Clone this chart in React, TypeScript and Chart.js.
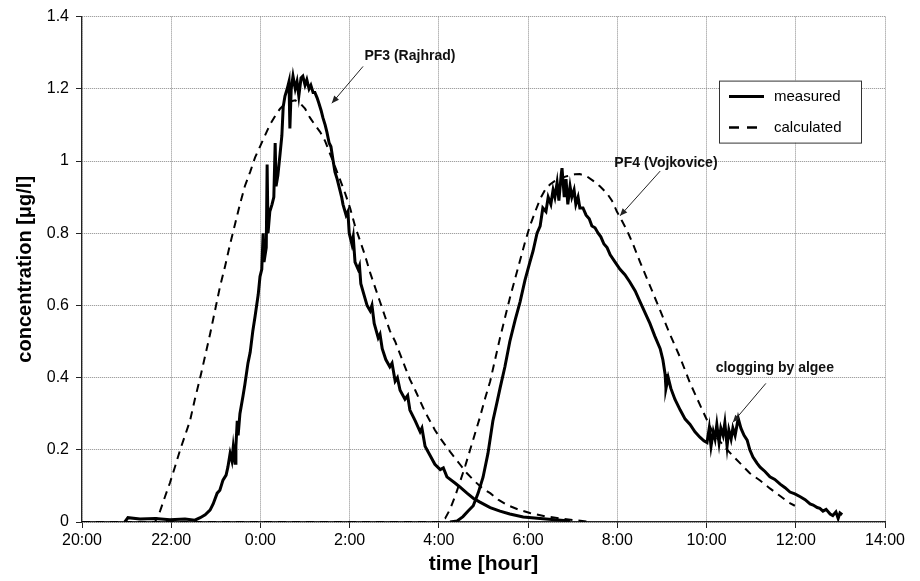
import React, { useEffect, useRef } from "react";
import { Chart, registerables } from "chart.js";

Chart.register(...registerables);

// ---------- data (x = hours elapsed since 20:00) ----------
const xTickLabels = ["20:00", "22:00", "0:00", "2:00", "4:00", "6:00", "8:00", "10:00", "12:00", "14:00"];
const yTickLabels = ["0", "0.2", "0.4", "0.6", "0.8", "1", "1.2", "1.4"];

const measuredPF3Hours = [
  0.96, 1.03, 1.3, 1.64, 1.97, 2.31, 2.53, 2.65, 2.76, 2.87, 2.94, 3.03, 3.09, 3.16, 3.23, 3.27, 3.32, 3.36, 3.39, 3.43,
  3.45, 3.48, 3.5, 3.54, 3.61, 3.65, 3.72, 3.77, 3.83, 3.88, 3.95, 3.99, 4.03, 4.06, 4.08, 4.13, 4.15, 4.17, 4.21, 4.26,
  4.3, 4.33, 4.35, 4.39, 4.44, 4.48, 4.51, 4.55, 4.6, 4.64, 4.66, 4.69, 4.73, 4.78, 4.82, 4.86, 4.91, 4.95, 5.0, 5.04,
  5.09, 5.13, 5.18, 5.22, 5.27, 5.31, 5.36, 5.4, 5.45, 5.49, 5.54, 5.58, 5.63, 5.67, 5.72, 5.78, 5.82, 5.85, 5.92, 5.96,
  5.99, 6.05, 6.08, 6.12, 6.19, 6.22, 6.25, 6.32, 6.39, 6.46, 6.5, 6.55, 6.64, 6.68, 6.73, 6.81, 6.9, 6.95, 7.02, 7.07,
  7.13, 7.24, 7.3, 7.35, 7.47, 7.58, 7.62, 7.69, 7.8, 7.91, 8.03, 8.1, 8.18, 8.36, 8.47, 8.63, 8.77, 8.92, 9.15, 9.37,
  9.59, 9.89, 10.27, 10.6, 10.94,
];
const measuredPF3Values = [
  0.0, 0.012, 0.008, 0.01, 0.006, 0.008, 0.005, 0.012, 0.02, 0.033, 0.05, 0.08, 0.088, 0.116, 0.13, 0.152, 0.19, 0.17, 0.207, 0.163,
  0.21, 0.28, 0.24, 0.3, 0.35, 0.38, 0.44, 0.47, 0.53, 0.57, 0.63, 0.68, 0.7, 0.8, 0.72, 0.76, 0.99, 0.8, 0.86, 0.88,
  0.9, 1.05, 0.93, 0.96, 1.02, 1.07, 1.15, 1.18, 1.2, 1.22, 1.09, 1.2, 1.235, 1.2, 1.22, 1.18, 1.23, 1.235, 1.21, 1.225,
  1.2, 1.21, 1.19, 1.19, 1.175, 1.16, 1.14, 1.12, 1.1, 1.08, 1.05, 1.04, 1.0, 0.97, 0.95, 0.92, 0.9, 0.88, 0.85, 0.86,
  0.8, 0.77, 0.79, 0.72, 0.7, 0.71, 0.66, 0.63, 0.6, 0.585, 0.6, 0.55, 0.51, 0.52, 0.48, 0.45, 0.43, 0.44, 0.39, 0.4,
  0.365, 0.34, 0.35, 0.31, 0.28, 0.25, 0.26, 0.21, 0.185, 0.16, 0.145, 0.15, 0.125, 0.108, 0.097, 0.08, 0.066, 0.055, 0.04, 0.03,
  0.022, 0.014, 0.01, 0.006, 0.003,
];

const measuredPF4Hours = [
  8.25, 8.41, 8.54, 8.65, 8.77, 8.88, 8.99, 9.1, 9.21, 9.3, 9.37, 9.48, 9.59, 9.71, 9.82, 9.93, 10.04, 10.11, 10.2, 10.27,
  10.33, 10.4, 10.45, 10.51, 10.56, 10.6, 10.65, 10.69, 10.74, 10.76, 10.81, 10.85, 10.89, 10.94, 10.98, 11.03, 11.07, 11.12, 11.16, 11.23,
  11.3, 11.37, 11.43, 11.5, 11.57, 11.63, 11.7, 11.77, 11.84, 11.95, 12.06, 12.17, 12.28, 12.4, 12.51, 12.62, 12.73, 12.84, 12.96, 13.02,
  13.07, 13.09, 13.14, 13.2, 13.29, 13.41, 13.52, 13.63, 13.74, 13.85, 13.94, 14.01, 14.06, 14.1, 14.15, 14.19, 14.23, 14.28, 14.32, 14.37,
  14.41, 14.46, 14.5, 14.55, 14.59, 14.64, 14.71, 14.77, 14.84, 14.91, 14.97, 15.04, 15.13, 15.2, 15.31, 15.42, 15.53, 15.65, 15.76, 15.87,
  15.98, 16.1, 16.21, 16.32, 16.39, 16.48, 16.54, 16.61, 16.68, 16.77, 16.83, 16.9, 16.95, 16.99, 17.04,
];
const measuredPF4Values = [
  0.0, 0.003, 0.015, 0.03, 0.045, 0.08, 0.124, 0.19, 0.28, 0.33, 0.37, 0.43, 0.5, 0.56, 0.61, 0.67, 0.72, 0.75, 0.8, 0.82,
  0.87, 0.86, 0.9, 0.88, 0.92, 0.9, 0.94, 0.89, 0.96, 0.98, 0.9, 0.95, 0.88, 0.93, 0.9, 0.92, 0.88, 0.9, 0.87, 0.87,
  0.85, 0.84, 0.82, 0.815, 0.8, 0.79, 0.77, 0.76, 0.74, 0.72, 0.7, 0.685, 0.665, 0.64, 0.61, 0.58, 0.55, 0.515, 0.48, 0.45,
  0.41, 0.37, 0.4, 0.37, 0.34, 0.31, 0.285, 0.27, 0.25, 0.235, 0.225, 0.22, 0.26, 0.21, 0.25, 0.23, 0.27, 0.22, 0.26, 0.24,
  0.275, 0.21, 0.255, 0.23, 0.26, 0.24, 0.287, 0.26, 0.24, 0.227, 0.2, 0.18, 0.163, 0.152, 0.14, 0.125, 0.118, 0.105, 0.095, 0.083,
  0.078, 0.07, 0.062, 0.05, 0.047, 0.04, 0.038, 0.03, 0.035, 0.022, 0.018, 0.028, 0.01, 0.025, 0.02,
];

const calculatedPF3Hours = [
  0, 1.64, 1.7, 1.75, 1.86, 1.97, 2.09, 2.2, 2.31, 2.42, 2.53, 2.65, 2.76, 2.87, 2.98, 3.09, 3.21, 3.32, 3.43, 3.54,
  3.65, 3.77, 3.88, 3.99, 4.1, 4.21, 4.33, 4.44, 4.55, 4.66, 4.78, 4.89, 5.0, 5.11, 5.22, 5.34, 5.45, 5.56, 5.67, 5.78,
  5.9, 6.01, 6.12, 6.23, 6.34, 6.46, 6.57, 6.68, 6.79, 6.9, 7.02, 7.13, 7.24, 7.35, 7.47, 7.58, 7.69, 7.8, 7.91, 8.03,
  8.25, 8.47, 8.63, 8.81, 8.99, 9.15, 9.33, 9.53, 9.77, 10.04, 10.38, 10.72, 11.05, 11.39,
];
const calculatedPF3Values = [
  0, 0, 0.02, 0.03, 0.07, 0.108, 0.155, 0.2, 0.24, 0.28, 0.34, 0.4, 0.46, 0.52, 0.585, 0.65, 0.71, 0.77, 0.825, 0.88,
  0.93, 0.97, 1.01, 1.04, 1.07, 1.1, 1.125, 1.145, 1.158, 1.165, 1.168, 1.16, 1.145, 1.12, 1.1, 1.08, 1.055, 1.02, 0.985, 0.95,
  0.91, 0.87, 0.82, 0.78, 0.74, 0.69, 0.65, 0.61, 0.57, 0.53, 0.5, 0.465, 0.43, 0.395, 0.365, 0.335, 0.305, 0.28, 0.255, 0.232,
  0.195, 0.16, 0.135, 0.112, 0.092, 0.08, 0.062, 0.047, 0.035, 0.025, 0.016, 0.01, 0.005, 0,
];

const calculatedPF4Hours = [
  0, 8.03, 8.14, 8.25, 8.36, 8.47, 8.59, 8.7, 8.81, 8.92, 9.03, 9.15, 9.26, 9.37, 9.48, 9.59, 9.71, 9.82, 9.93, 10.04,
  10.16, 10.27, 10.38, 10.49, 10.6, 10.72, 10.87, 11.05, 11.16, 11.32, 11.46, 11.61, 11.77, 11.88, 11.99, 12.1, 12.22, 12.35, 12.51, 12.73,
  12.96, 13.18, 13.41, 13.63, 13.85, 14.15, 14.46, 14.75, 14.97, 15.2, 15.42, 15.65, 15.83, 15.98,
];
const calculatedPF4Values = [
  0, 0, 0.01, 0.035, 0.07, 0.11, 0.155, 0.2, 0.245, 0.29, 0.34, 0.39, 0.45, 0.51, 0.565, 0.62, 0.675, 0.725, 0.775, 0.82,
  0.86, 0.895, 0.92, 0.935, 0.945, 0.952, 0.958, 0.963, 0.964, 0.957, 0.945, 0.93, 0.91, 0.89, 0.86, 0.835, 0.807, 0.77, 0.72, 0.655,
  0.586, 0.52, 0.455, 0.385, 0.325, 0.245, 0.2, 0.163, 0.135, 0.115, 0.093, 0.072, 0.055, 0.045,
];

// annotation labels anchored in data units (hours, concentration)
const annotationTexts = ["PF3 (Rajhrad)", "PF4 (Vojkovice)", "clogging by algee"];
const annotationTextAt = [[7.35, 1.29], [13.09, 0.994], [15.53, 0.425]];
const annotationArrowFrom = [[6.3, 1.262], [12.96, 0.972], [15.33, 0.384]];
const annotationArrowTo = [[5.6, 1.16], [12.06, 0.848], [14.59, 0.276]];

const legendLabels = ["measured", "calculated"];

const FONT = "'Liberation Sans', Arial, Helvetica, sans-serif";

const toPoints = (xs: number[], ys: number[]) => xs.map((x, i) => ({ x, y: ys[i] }));

function drawArrow(ctx: CanvasRenderingContext2D, x1: number, y1: number, x2: number, y2: number) {
  ctx.save();
  ctx.strokeStyle = "#222";
  ctx.fillStyle = "#222";
  ctx.lineWidth = 1;
  ctx.beginPath();
  ctx.moveTo(x1, y1);
  ctx.lineTo(x2, y2);
  ctx.stroke();
  const ang = Math.atan2(y2 - y1, x2 - x1);
  const len = 8;
  const spread = 0.4;
  ctx.beginPath();
  ctx.moveTo(x2, y2);
  ctx.lineTo(x2 - len * Math.cos(ang - spread), y2 - len * Math.sin(ang - spread));
  ctx.lineTo(x2 - len * Math.cos(ang + spread), y2 - len * Math.sin(ang + spread));
  ctx.closePath();
  ctx.fill();
  ctx.restore();
}

const overlayPlugin = {
  id: "overlay",
  afterDatasetsDraw(chart: any) {
    const { ctx, chartArea, scales } = chart;
    const xs = scales.x;
    const ys = scales.y;

    // annotations
    ctx.save();
    ctx.font = `bold 14px ${FONT}`;
    ctx.fillStyle = "#111";
    ctx.textAlign = "center";
    ctx.textBaseline = "middle";
    annotationTexts.forEach((t, i) => {
      const [tx, ty] = annotationTextAt[i];
      ctx.fillText(t, xs.getPixelForValue(tx), ys.getPixelForValue(ty));
      const [fx, fy] = annotationArrowFrom[i];
      const [ex, ey] = annotationArrowTo[i];
      drawArrow(
        ctx,
        xs.getPixelForValue(fx),
        ys.getPixelForValue(fy),
        xs.getPixelForValue(ex),
        ys.getPixelForValue(ey)
      );
    });
    ctx.restore();

    // legend box
    const w = 142;
    const h = 62;
    const x0 = chartArea.right - 166;
    const y0 = chartArea.top + 64;
    ctx.save();
    ctx.fillStyle = "#fff";
    ctx.fillRect(x0, y0, w, h);
    ctx.strokeStyle = "#333";
    ctx.lineWidth = 1;
    ctx.strokeRect(x0 + 0.5, y0 + 0.5, w, h);
    const rows = [y0 + 16, y0 + 47];
    rows.forEach((ry, i) => {
      ctx.beginPath();
      ctx.strokeStyle = "#000";
      if (i === 0) {
        ctx.lineWidth = 3;
        ctx.setLineDash([]);
      } else {
        ctx.lineWidth = 2.5;
        ctx.setLineDash([10, 8]);
      }
      ctx.moveTo(x0 + 10, ry);
      ctx.lineTo(x0 + 45, ry);
      ctx.stroke();
      ctx.setLineDash([]);
      ctx.fillStyle = "#000";
      ctx.font = `15px ${FONT}`;
      ctx.textAlign = "left";
      ctx.textBaseline = "middle";
      ctx.fillText(legendLabels[i], x0 + 55, ry);
    });
    ctx.restore();
  },
};

export default function App() {
  const canvasRef = useRef<HTMLCanvasElement | null>(null);

  useEffect(() => {
    const canvas = canvasRef.current;
    if (!canvas) return;
    const solid = { borderColor: "#000", borderWidth: 3, pointRadius: 0, tension: 0, fill: false };
    const dashed = { borderColor: "#000", borderWidth: 2, borderDash: [8, 6], pointRadius: 0, tension: 0, fill: false };
    const chart = new Chart(canvas, {
      type: "line",
      data: {
        datasets: [
          { label: "measured PF3", data: toPoints(measuredPF3Hours, measuredPF3Values), ...solid },
          { label: "measured PF4", data: toPoints(measuredPF4Hours, measuredPF4Values), ...solid },
          { label: "calculated PF3", data: toPoints(calculatedPF3Hours, calculatedPF3Values), ...dashed },
          { label: "calculated PF4", data: toPoints(calculatedPF4Hours, calculatedPF4Values), ...dashed },
        ] as any,
      },
      options: {
        responsive: false,
        animation: false,
        devicePixelRatio: 1,
        layout: { padding: { left: 0, right: 35, top: 15, bottom: 0 } },
        plugins: { legend: { display: false }, tooltip: { enabled: false }, title: { display: false } },
        scales: {
          x: {
            type: "linear",
            min: 0,
            max: 18,
            ticks: {
              stepSize: 2,
              autoSkip: false,
              maxRotation: 0,
              padding: 3,
              color: "#000",
              font: { family: FONT, size: 16 },
              callback: (v: any) => xTickLabels[Math.round(Number(v) / 2)] ?? "",
            },
            grid: { color: "#8a8a8a", lineWidth: 1, tickLength: 6, tickColor: "#222", tickWidth: 1 },
            border: { display: true, color: "#222", width: 1.2, dash: [1, 1] },
            title: {
              display: true,
              text: "time [hour]",
              color: "#000",
              font: { family: FONT, size: 21, weight: "bold" },
              padding: { top: 0, bottom: 4 },
            },
            afterFit: (s: any) => {
              s.height = 59;
            },
          },
          y: {
            type: "linear",
            min: 0,
            max: 1.4,
            ticks: {
              stepSize: 0.2,
              padding: 7,
              color: "#000",
              font: { family: FONT, size: 16 },
              callback: (v: any) => yTickLabels[Math.round(Number(v) / 0.2)] ?? "",
            },
            grid: { color: "#8a8a8a", lineWidth: 1, tickLength: 6, tickColor: "#222", tickWidth: 1 },
            border: { display: true, color: "#222", width: 1.2, dash: [1, 1] },
            title: {
              display: true,
              text: "concentration [μg/l]",
              color: "#000",
              font: { family: FONT, size: 20, weight: "bold" },
              padding: { top: 13, bottom: 0 },
            },
            afterFit: (s: any) => {
              s.width = 82;
            },
          },
        },
      } as any,
      plugins: [overlayPlugin],
    });
    return () => chart.destroy();
  }, []);

  return (
    <div style={{ position: "fixed", left: 0, top: 0, width: 920, height: 581, background: "#fff" }}>
      <canvas ref={canvasRef} width={920} height={581} style={{ display: "block", width: 920, height: 581 }} />
    </div>
  );
}
